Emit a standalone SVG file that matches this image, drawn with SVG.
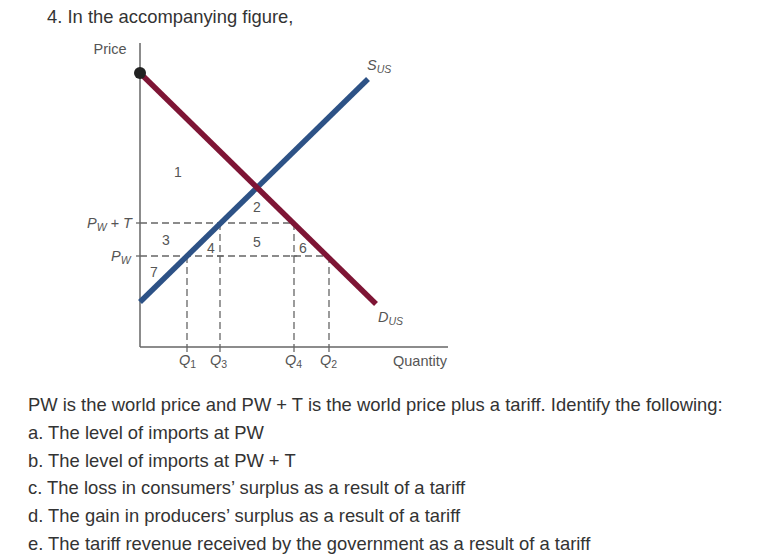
<svg xmlns="http://www.w3.org/2000/svg" width="773" height="556" viewBox="0 0 773 556">
<style>
.txt{font-family:"Liberation Sans",Arial,sans-serif;font-size:18.4px;fill:#333}
.lbl{font-family:"Liberation Sans",Arial,sans-serif;font-size:14.5px;fill:#555}
.it{font-style:italic}
.sub{font-size:10.5px}
.up{font-style:normal}
.num{font-family:"Liberation Sans",Arial,sans-serif;font-size:14px;fill:#555;text-anchor:middle}
.axis{stroke:#666;stroke-width:1.5;fill:none}
.dash{stroke:#666;stroke-width:1.3;stroke-dasharray:7 4;fill:none}
.tick{stroke:#666;stroke-width:1.3;fill:none}
</style>
<rect width="773" height="556" fill="#fff"/>
<text class="txt" x="47" y="23">4. In the accompanying figure,</text>

<g id="axes">
<line class="axis" x1="140" y1="43" x2="140" y2="347"/>
<line class="axis" x1="140" y1="347" x2="448" y2="347"/>
<text class="lbl" x="110" y="54" text-anchor="middle">Price</text>
<text class="lbl" x="420" y="366" text-anchor="middle">Quantity</text>
</g>

<g id="guides">
<line class="dash" x1="140" y1="223" x2="294" y2="223"/>
<line class="dash" x1="140" y1="256" x2="329" y2="256"/>
<line class="dash" x1="187" y1="256" x2="187" y2="347"/>
<line class="dash" x1="220" y1="223" x2="220" y2="347"/>
<line class="dash" x1="294" y1="223" x2="294" y2="347"/>
<line class="dash" x1="329" y1="256" x2="329" y2="347"/>
<line class="tick" x1="136" y1="223" x2="140" y2="223"/>
<line class="tick" x1="136" y1="256" x2="140" y2="256"/>
<line class="tick" x1="187" y1="347" x2="187" y2="352"/>
<line class="tick" x1="220" y1="347" x2="220" y2="352"/>
<line class="tick" x1="294" y1="347" x2="294" y2="352"/>
<line class="tick" x1="329" y1="347" x2="329" y2="352"/>
<line class="tick" x1="217" y1="256" x2="223" y2="256"/>
<line class="tick" x1="291" y1="256" x2="297" y2="256"/>
</g>

<g id="curves">
<line id="supply" x1="140" y1="302" x2="368" y2="79" stroke="#2d5286" stroke-width="5.5"/>
<line id="demand" x1="140" y1="73" x2="376" y2="304" stroke="#7e1535" stroke-width="5.5"/>
<circle cx="140" cy="73" r="6" fill="#222"/>
</g>

<g id="curve-labels">
<text class="lbl it" x="367" y="70">S<tspan class="sub" dy="3">US</tspan></text>
<text class="lbl it" x="378" y="322">D<tspan class="sub" dy="3">US</tspan></text>
</g>

<g id="price-labels">
<text class="lbl it" x="87" y="228">P<tspan class="sub" dy="3">W</tspan><tspan dy="-3"> + T</tspan></text>
<text class="lbl it" x="111" y="261">P<tspan class="sub" dy="3">W</tspan></text>
</g>

<g id="qty-labels">
<text class="lbl it" x="179" y="365">Q<tspan class="sub up" dy="3">1</tspan></text>
<text class="lbl it" x="210" y="365">Q<tspan class="sub up" dy="3">3</tspan></text>
<text class="lbl it" x="285" y="365">Q<tspan class="sub up" dy="3">4</tspan></text>
<text class="lbl it" x="320" y="365">Q<tspan class="sub up" dy="3">2</tspan></text>
</g>

<g id="areas">
<text class="num" x="178" y="177">1</text>
<text class="num" x="257" y="212">2</text>
<text class="num" x="166" y="245">3</text>
<text class="num" x="211" y="253">4</text>
<text class="num" x="257" y="247">5</text>
<text class="num" x="303" y="253">6</text>
<text class="num" x="154" y="277">7</text>
</g>

<g id="question">
<text class="txt" x="28" y="411">PW is the world price and PW + T is the world price plus a tariff. Identify the following:</text>
<text class="txt" x="28" y="439">a. The level of imports at PW</text>
<text class="txt" x="28" y="467">b. The level of imports at PW + T</text>
<text class="txt" x="28" y="494">c. The loss in consumers’ surplus as a result of a tariff</text>
<text class="txt" x="28" y="522">d. The gain in producers’ surplus as a result of a tariff</text>
<text class="txt" x="28" y="550">e. The tariff revenue received by the government as a result of a tariff</text>
</g>
</svg>
